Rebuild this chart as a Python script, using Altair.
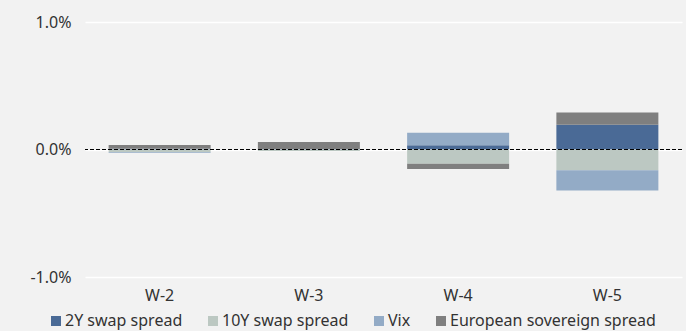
import altair as alt
import pandas as pd

weeks = ["W-2", "W-3", "W-4", "W-5"]
series = ["2Y swap spread", "10Y swap spread", "Vix", "European sovereign spread"]
colors = ["#4a6a96", "#bcc8c2", "#93abc6", "#7f7f7f"]
# values in percent
v_2y = [0.005, 0.003, 0.034, 0.194]
v_10y = [-0.02, -0.012, -0.112, -0.162]
v_vix = [-0.006, 0.0, 0.097, -0.160]
v_eur = [0.030, 0.055, -0.040, 0.097]

rows = []
for i, w in enumerate(weeks):
    for k, (s, vals) in enumerate(zip(series, [v_2y, v_10y, v_vix, v_eur])):
        rows.append({"week": w, "series": s, "value": vals[i], "order": k})
df = pd.DataFrame(rows)

FONT = "Noto Sans"
FS = 16
TC = "#333333"

bars = alt.Chart(df).mark_bar(size=102).encode(
    x=alt.X("week:N", sort=weeks, title=None,
            scale=alt.Scale(paddingInner=0.317, paddingOuter=0.1585),
            axis=alt.Axis(labelAngle=0, ticks=False, domain=False, labelPadding=10,
                          labelFontSize=FS, labelColor=TC, labelFont=FONT, grid=False)),
    y=alt.Y("value:Q", stack="zero", title=None,
            scale=alt.Scale(domain=[-1, 1], nice=False),
            axis=alt.Axis(values=[-1, 0, 1],
                          labelExpr="(datum.value < 0 ? '-' : '') + format(abs(datum.value), '.1f') + '%'",
                          ticks=False, domain=False, labelPadding=14, gridColor="#ffffff",
                          gridWidth=1.5, labelFontSize=FS, labelColor=TC, labelFont=FONT)),
    color=alt.Color("series:N", sort=series,
                    scale=alt.Scale(domain=series, range=colors),
                    legend=alt.Legend(title=None, orient="none", direction="horizontal",
                                      legendX=-37, legendY=291, symbolType="square",
                                      symbolSize=100, symbolStrokeWidth=0, labelFontSize=FS,
                                      labelFont=FONT, labelColor=TC, labelOffset=1,
                                      labelLimit=400, columnPadding=22)),
    order=alt.Order("order:Q", sort="ascending"),
)

zero = alt.Chart(pd.DataFrame({"z": [0]})).mark_rule(
    color="#000000", strokeDash=[4, 2], strokeWidth=1
).encode(y="z:Q")

chart = alt.layer(bars, zero).properties(
    width=597, height=255,
    background="#f2f2f2",
    padding={"left": 85, "top": 22, "right": 4, "bottom": 54},
    autosize=alt.AutoSizeParams(type="none"),
).configure_view(stroke=None, fill="#f2f2f2")

chart.save("out.html", embed_options={"renderer": "svg", "actions": False})
